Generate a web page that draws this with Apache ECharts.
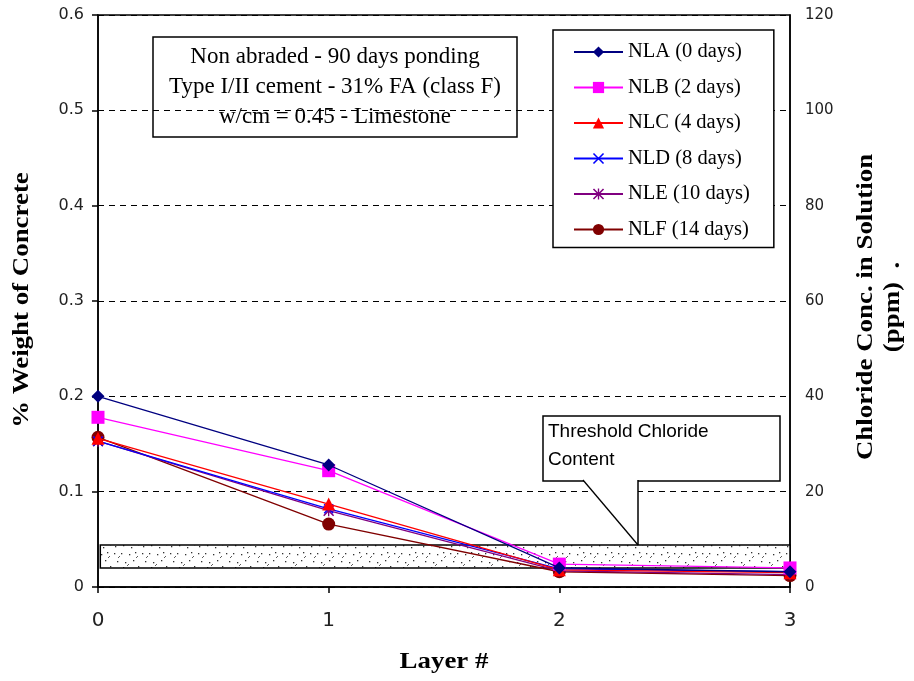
<!DOCTYPE html>
<html>
<head>
<meta charset="utf-8">
<script src="https://cdn.jsdelivr.net/npm/echarts@6/dist/echarts.min.js"></script>
<style>
  html, body { margin: 0; padding: 0; background: #fff; }
  #chart { width: 914px; height: 681px; }
</style>
</head>
<body>
<div id="chart"></div>
<script>
// layer numbers (x)
var layers = [0, 1, 2, 3];

// % weight of concrete per layer
var nla = [0.200, 0.128, 0.020, 0.016];
var nlb = [0.178, 0.122, 0.024, 0.020];
var nlc = [0.156, 0.087, 0.018, 0.015];
var nld = [0.153, 0.082, 0.019, 0.016];
var nle = [0.153, 0.080, 0.017, 0.013];
var nlf = [0.157, 0.066, 0.016, 0.012];

var seriesNames = ['NLA (0 days)', 'NLB (2 days)', 'NLC (4 days)', 'NLD (8 days)', 'NLE (10 days)', 'NLF (14 days)'];

// threshold chloride band (% weight)
var thresholdLow = 0.02;
var thresholdHigh = 0.044;

var leftTicks = [0, 0.1, 0.2, 0.3, 0.4, 0.5, 0.6];
var rightTicks = [0, 20, 40, 60, 80, 100, 120];

var serif = '"Liberation Serif", "DejaVu Serif", serif';
var sans = '"DejaVu Sans", Verdana, sans-serif';
var arial = '"Liberation Sans", Arial, sans-serif';

// hatch pattern for the threshold band
function makeHatch() {
    var c = document.createElement('canvas');
    c.width = 28;
    c.height = 22;
    var g = c.getContext('2d');
    g.fillStyle = '#fff';
    g.fillRect(0, 0, 28, 22);
    g.fillStyle = '#333';
    var dots = [[2, 3], [9, 3], [17, 4], [23, 2], [5, 11], [13, 12], [21, 10], [3, 18], [11, 17], [19, 19], [26, 16]];
    dots.forEach(function (d) { g.fillRect(d[0], d[1], 1.3, 1.3); });
    g.strokeStyle = '#333';
    g.lineWidth = 0.8;
    g.beginPath();
    g.moveTo(6, 8); g.lineTo(8, 6);
    g.moveTo(15, 16); g.lineTo(17, 14);
    g.moveTo(24, 8); g.lineTo(26, 6);
    g.stroke();
    return c;
}

function pairs(ys) {
    return layers.map(function (x, i) { return [x, ys[i]]; });
}

var xPath = 'path://M0,1L1,0L5,4L9,0L10,1L6,5L10,9L9,10L5,6L1,10L0,9L4,5Z';
var starPath = 'path://M0,1L1,0L5,4L9,0L10,1L6,5L10,9L9,10L5,6L1,10L0,9L4,5Z M4.4,0L5.6,0L5.6,10L4.4,10Z';

var styles = [
    { color: '#000080', symbol: 'diamond', size: 13 },
    { color: '#FF00FF', symbol: 'rect', size: 13 },
    { color: '#FF0000', symbol: 'triangle', size: 13 },
    { color: '#0000FF', symbol: xPath, size: 10 },
    { color: '#800080', symbol: starPath, size: 11 },
    { color: '#800000', symbol: 'circle', size: 13 }
];
var allData = [nla, nlb, nlc, nld, nle, nlf];

var series = allData.map(function (d, i) {
    return {
        name: seriesNames[i],
        type: 'line',
        data: pairs(d),
        symbol: styles[i].symbol,
        symbolSize: styles[i].size,
        lineStyle: { color: styles[i].color, width: 1.3 },
        itemStyle: { color: styles[i].color },
        z: 10 - i
    };
});

// threshold band as mark area on first series
series[0].markArea = {
    silent: true,
    z: 1,
    itemStyle: {
        color: { image: makeHatch(), repeat: 'repeat' },
        borderColor: '#000',
        borderWidth: 1.5
    },
    data: [[{ coord: [0.01, thresholdHigh] }, { coord: [3, thresholdLow] }]]
};

var titleFont = 'bold 24px ' + serif;

var chart = echarts.init(document.getElementById('chart'));
chart.setOption({
    backgroundColor: '#fff',
    animation: false,
    grid: { left: 98, right: 124, top: 15, bottom: 94, show: true, borderColor: '#000', borderWidth: 1.5 },
    legend: {
        orient: 'vertical',
        left: 553,
        top: 30,
        padding: [11, 24, 7, 20],
        itemWidth: 49,
        itemHeight: 14,
        itemGap: 13.5,
        backgroundColor: '#fff',
        borderColor: '#000',
        borderWidth: 1.5,
        data: seriesNames,
        textStyle: { fontFamily: serif, fontSize: 20.5, lineHeight: 22, color: '#000' }
    },
    xAxis: {
        type: 'value',
        min: 0, max: 3, interval: 1,
        axisLine: { lineStyle: { color: '#000', width: 1.5 } },
        axisTick: { show: true, length: 6, lineStyle: { color: '#000', width: 1.5 } },
        axisLabel: { margin: 24, fontFamily: sans, fontSize: 20, color: '#222' },
        splitLine: { show: false }
    },
    yAxis: [{
        type: 'value',
        min: leftTicks[0], max: leftTicks[leftTicks.length - 1], interval: 0.1,
        axisLine: { show: true, lineStyle: { color: '#000', width: 1.5 } },
        axisTick: { show: true, length: 6, lineStyle: { color: '#000', width: 1.5 } },
        axisLabel: { margin: 14, fontFamily: sans, fontSize: 16, color: '#222' },
        splitLine: { show: true, lineStyle: { color: '#000', type: [6, 5], width: 1.2 } }
    }, {
        type: 'value',
        min: rightTicks[0], max: rightTicks[rightTicks.length - 1], interval: 20,
        position: 'right',
        axisLine: { show: true, lineStyle: { color: '#000', width: 1.5 } },
        axisTick: { show: false },
        axisLabel: { margin: 15, fontFamily: sans, fontSize: 15, color: '#222' },
        splitLine: { show: false }
    }],
    series: series,
    graphic: [
        // axis titles
        { type: 'text', x: 444, y: 662, scaleX: 1.12, style: { text: 'Layer #', font: titleFont, fill: '#000', align: 'center', verticalAlign: 'middle' } },
        { type: 'text', x: 22, y: 300, rotation: Math.PI / 2, scaleX: 1.12, style: { text: '% Weight of Concrete', font: titleFont, fill: '#000', align: 'center', verticalAlign: 'middle' } },
        { type: 'text', x: 866, y: 307, rotation: Math.PI / 2, scaleX: 1.12, style: { text: 'Chloride Conc. in Solution', font: titleFont, fill: '#000', align: 'center', verticalAlign: 'middle' } },
        { type: 'text', x: 893, y: 307, rotation: Math.PI / 2, scaleX: 1.12, style: { text: '(ppm)  .', font: titleFont, fill: '#000', align: 'center', verticalAlign: 'middle' } },
        // description box
        {
            type: 'group', x: 153, y: 37,
            children: [
                { type: 'rect', shape: { x: 0, y: 0, width: 364, height: 100 }, style: { fill: '#fff', stroke: '#000', lineWidth: 1.5 } },
                {
                    type: 'text', x: 182, y: 50,
                    style: {
                        text: 'Non abraded - 90 days ponding\nType I/II cement - 31% FA (class F)\nw/cm = 0.45 - Limestone',
                        font: '23px ' + serif, fill: '#000', align: 'center', verticalAlign: 'middle', lineHeight: 30
                    }
                }
            ]
        },
        // threshold callout
        { type: 'polygon', z: 100, shape: { points: [[583, 480], [638, 480], [638, 545]] }, style: { fill: '#fff' } },
        { type: 'polyline', z: 101, shape: { points: [[583, 480], [638, 545]] }, style: { stroke: '#000', lineWidth: 1.3, fill: null } },
        { type: 'polyline', z: 101, shape: { points: [[638, 480], [638, 545]] }, style: { stroke: '#000', lineWidth: 1.5, fill: null } },
        {
            type: 'group', x: 543, y: 416, z: 102,
            children: [
                { type: 'rect', shape: { x: 0, y: 0, width: 237, height: 65 }, style: { fill: '#fff', stroke: '#000', lineWidth: 1.5 } },
                { type: 'text', x: 5, y: 30, style: { text: 'Threshold Chloride\nContent', font: '19px ' + arial, fill: '#000', lineHeight: 28, verticalAlign: 'middle' } },
                { type: 'line', shape: { x1: 41, y1: 65, x2: 94, y2: 65 }, style: { stroke: '#fff', lineWidth: 2 } }
            ]
        }
    ]
});
</script>
</body>
</html>
